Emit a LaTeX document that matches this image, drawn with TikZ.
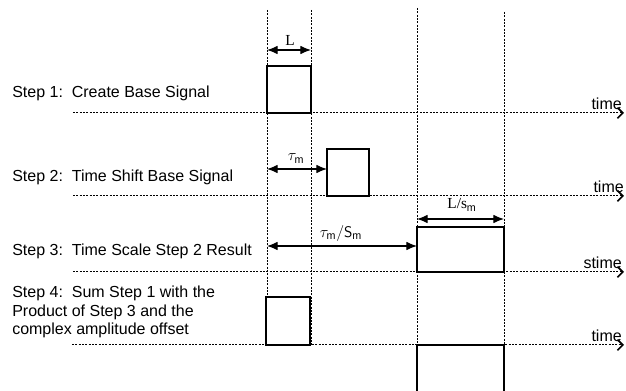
\documentclass[tikz,border=0pt]{standalone}
\usepackage{fontspec}
\setmainfont{Liberation Sans}
\newfontfamily\dimfont{Liberation Serif}
\usetikzlibrary{arrows.meta}

\tikzset{
  gridline/.style={dash pattern={on 1.5pt off 1pt}, line width=0.75pt},
  timeaxis/.style={gridline, -{Straight Barb[length=4pt,width=8pt,line width=1.2pt]}},
  pulse/.style={line width=1pt, fill=white},
  dimarrow/.style={line width=0.9pt, {Latex[length=8pt,width=6.5pt]}-{Latex[length=8pt,width=6.5pt]}},
  shiftarrow/.style={line width=0.9pt, {Latex[length=8pt,width=6.5pt]}-{Latex[length=8pt,width=6.5pt]}},
  steptext/.style={anchor=west, inner sep=0.75pt, align=left, font=\fontsize{12}{13.9}\selectfont},
  axistext/.style={anchor=south east, inner sep=0.75pt, font=\fontsize{12}{13.9}\selectfont},
  dimtext/.style={anchor=south, inner sep=1pt, font=\fontsize{11.5}{13}\selectfont},
}

\begin{document}
\begin{tikzpicture}[x=0.75pt,y=0.75pt,yscale=-1,xscale=1]
\useasboundingbox (0,0) rectangle (626,391);

% grid columns
\coordinate (c1top) at (267,10);  \coordinate (c1bot) at (267,345);
\coordinate (c2top) at (311,10);  \coordinate (c2bot) at (311,345);
\coordinate (c3top) at (417,8);   \coordinate (c3bot) at (417,391);
\coordinate (c4top) at (504,12);  \coordinate (c4bot) at (504,391);
\draw [gridline] (c1top) -- (c1bot);
\draw [gridline] (c2top) -- (c2bot);
\draw [gridline] (c3top) -- (c3bot);
\draw [gridline] (c4top) -- (c4bot);

% time axes
\coordinate (ax1s) at (73,113);  \coordinate (ax1e) at (624,113);
\coordinate (ax2s) at (73,196);  \coordinate (ax2e) at (624,196);
\coordinate (ax3s) at (73,272);  \coordinate (ax3e) at (624,272);
\coordinate (ax4s) at (72,345);  \coordinate (ax4e) at (624,345);
\draw [timeaxis] (ax1s) -- (ax1e);
\draw [timeaxis] (ax2s) -- (ax2e);
\draw [timeaxis] (ax3s) -- (ax3e);
\draw [timeaxis] (ax4s) -- (ax4e);

% pulses
\draw [pulse] (267,66) rectangle (311,113);
\draw [pulse] (327,149) rectangle (369,196);
\draw [pulse] (417,227) rectangle (504,272);
\draw [pulse] (266,297) rectangle (310,345);
\draw [line width=1pt] (417,392) -- (417,345) -- (504,345) -- (504,392);

% dimension arrows
\coordinate (La) at (267,50);   \coordinate (Lb) at (311,50);
\coordinate (Ta) at (267,169);  \coordinate (Tb) at (327,169);
\coordinate (Sa) at (417,219);  \coordinate (Sb) at (504,219);
\coordinate (Ua) at (267,246);  \coordinate (Ub) at (417,246);
\draw [dimarrow] (La) -- (Lb);
\draw [shiftarrow] (Ta) -- (Tb);
\draw [dimarrow] (Sa) -- (Sb);
\draw [shiftarrow] (Ua) -- (Ub);

% Text Node
\node (lenL) [dimtext] at (290,47) {\dimfont L};
\node (lenT) [dimtext] at (296,165) {$\tau_{\mathrm{m}}$};
\node (lenS) [dimtext] at (462,213) {\dimfont L/s$_{\mathrm{m}}$};
\node (lenU) [dimtext] at (341,243) {$\tau_{\mathrm{m}}/\mathsf{S}_{\mathrm{m}}$};

% Text Node
\node (step1) [steptext] at (11,93) {Step 1:\ \ Create Base Signal};
\node (step2) [steptext] at (11,177) {Step 2:\ \ Time Shift Base Signal};
\node (step3) [steptext] at (11,251) {Step 3:\ \ Time Scale Step 2 Result};
\node (step4) [steptext] at (11,312) {Step 4:\ \ Sum Step 1 with the\\Product of Step 3 and the\\complex amplitude offset};

% Text Node
\node (time1) [axistext] at (623,111) {time};
\node (time2) [axistext] at (625,194) {time};
\node (time3) [axistext] at (623,270) {stime};
\node (time4) [axistext] at (623,343) {time};

\end{tikzpicture}
\end{document}
